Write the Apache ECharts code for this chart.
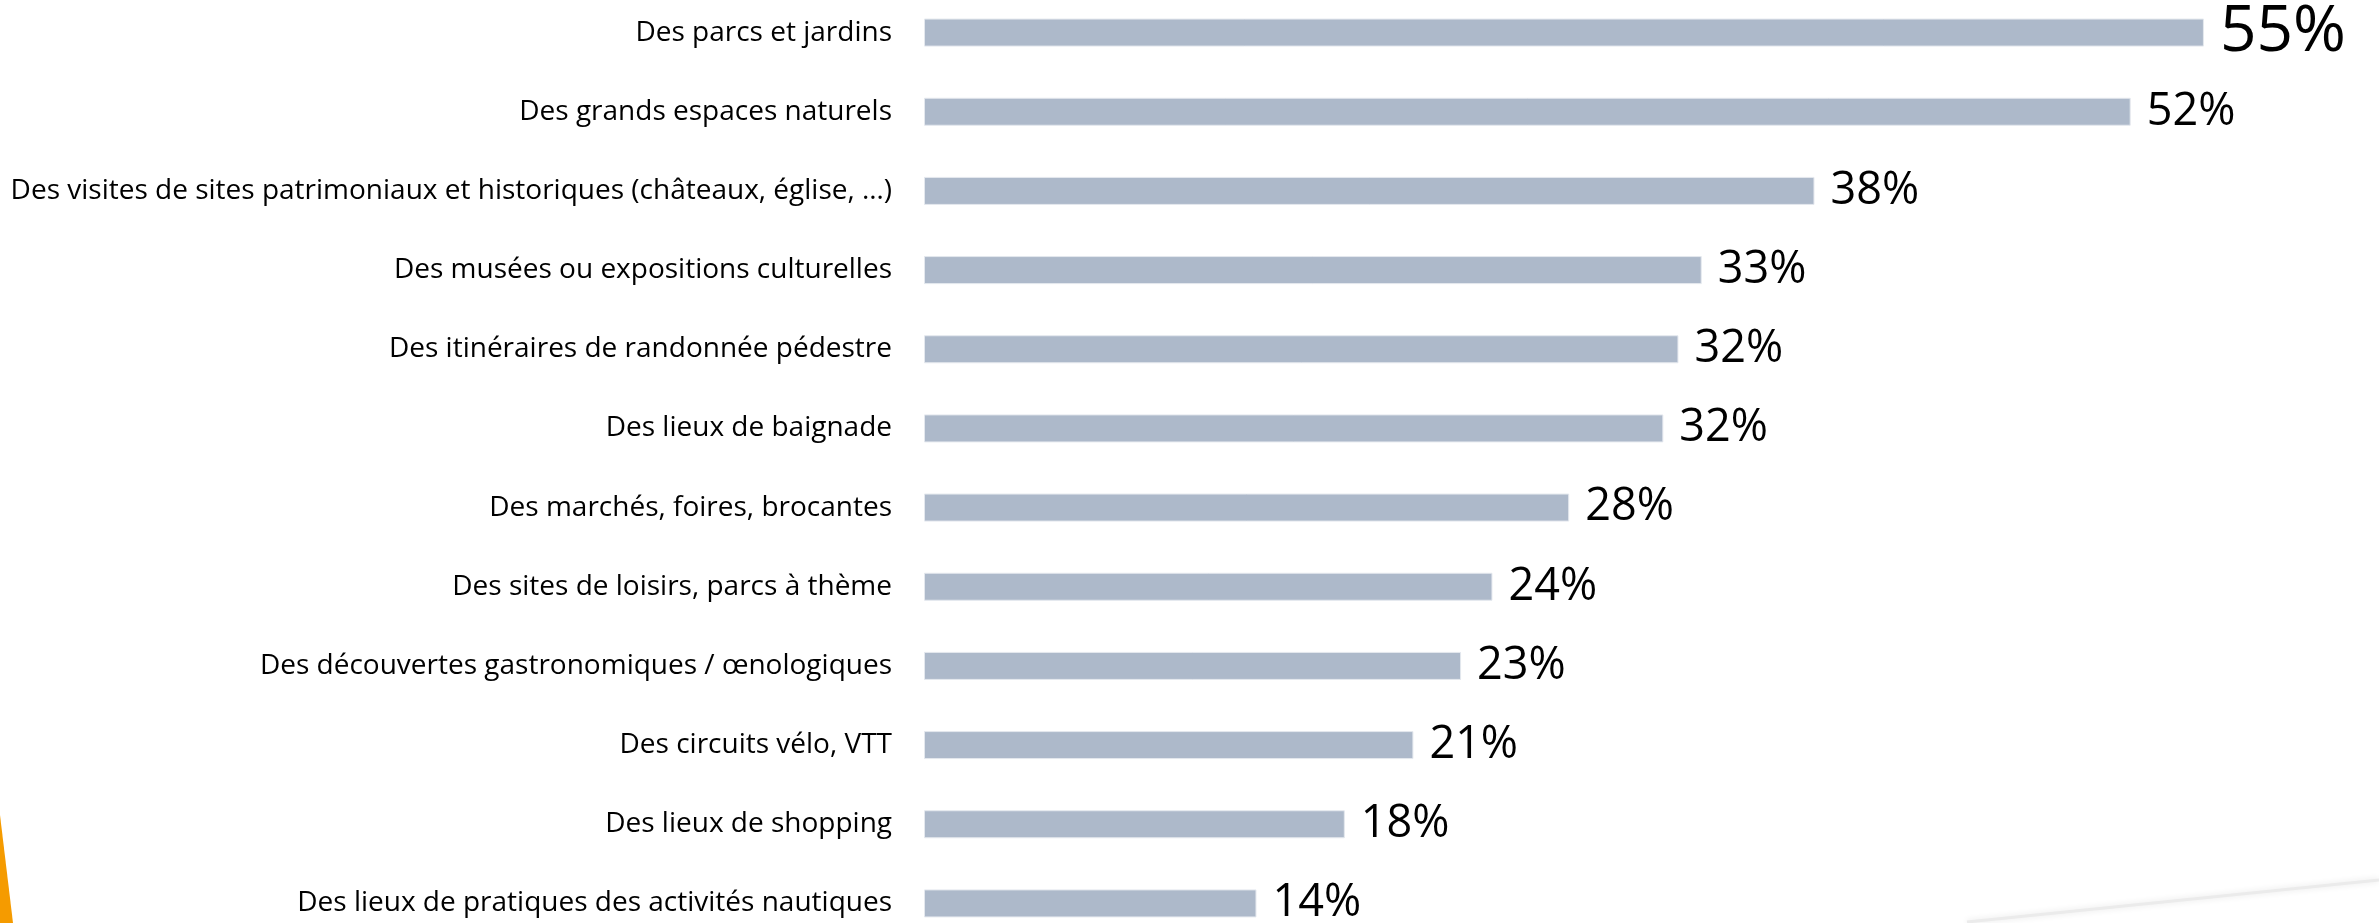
<!DOCTYPE html>
<html>
<head>
<meta charset="utf-8">
<style>
  html, body { margin: 0; padding: 0; background: #fff; overflow: hidden; }
  #chart { position: absolute; left: 0; top: -7px; width: 2379px; height: 950px; }
</style>
<script src="https://cdn.jsdelivr.net/npm/echarts@6/dist/echarts.min.js"></script>
</head>
<body>
<div id="chart"></div>
<script>
// categories, top to bottom as in the picture
const categories = [
  'Des parcs et jardins',
  'Des grands espaces naturels',
  'Des visites de sites patrimoniaux et historiques (châteaux, église, …)',
  'Des musées ou expositions culturelles',
  'Des itinéraires de randonnée pédestre',
  'Des lieux de baignade',
  'Des marchés, foires, brocantes',
  'Des sites de loisirs, parcs à thème',
  'Des découvertes gastronomiques / œnologiques',
  'Des circuits vélo, VTT',
  'Des lieux de shopping',
  'Des lieux de pratiques des activités nautiques'
]
// values
const values = [55.05, 51.9, 38.3, 33.45, 32.45, 31.8, 27.75, 24.45, 23.1, 21.05, 18.1, 14.3]
// percentages as printed next to the bars
const shown = [55, 52, 38, 33, 32, 32, 28, 24, 23, 21, 18, 14]

const chart = echarts.init(document.getElementById('chart'))

const option = {
  animation: false,
  backgroundColor: '#fff',
  textStyle: { fontFamily: 'Open Sans' },
  grid: {
    left: 924,
    right: 60,
    top: 0,
    bottom: 0,
    containLabel: false
  },
  xAxis: {
    type: 'value',
    min: 0,
    max: 60,
    show: false
  },
  yAxis: {
    type: 'category',
    inverse: true,
    data: categories,
    axisLine: { show: false },
    axisTick: { show: false },
    splitLine: { show: false },
    axisLabel: {
      color: '#000',
      fontSize: 28,
      margin: 32,
      fontFamily: 'Open Sans'
    }
  },
  series: [
    {
      type: 'bar',
      data: values.map((v, i) => ({
        value: v,
        label: i === 0 ? { fontSize: 64 } : {}
      })),
      barWidth: 28,
      itemStyle: {
        color: '#ADB9CA',
        borderColor: '#E4E8EE',
        borderWidth: 1
      },
      label: {
        show: true,
        position: 'right',
        distance: 16,
        color: '#000',
        fontSize: 45,
        fontFamily: 'Open Sans',
        formatter: p => shown[p.dataIndex] + '%'
      }
    }
  ],
  graphic: [
    {
      type: 'polygon',
      shape: { points: [[0, 822], [13, 930], [0, 930]] },
      style: { fill: '#F59B00' }
    },
    {
      type: 'line',
      shape: { x1: 1967, y1: 929, x2: 2379, y2: 887 },
      style: { stroke: '#EBEBEB', lineWidth: 3, shadowBlur: 6, shadowColor: '#e4e4e4' }
    }
  ]
}

chart.setOption(option)
</script>
</body>
</html>
